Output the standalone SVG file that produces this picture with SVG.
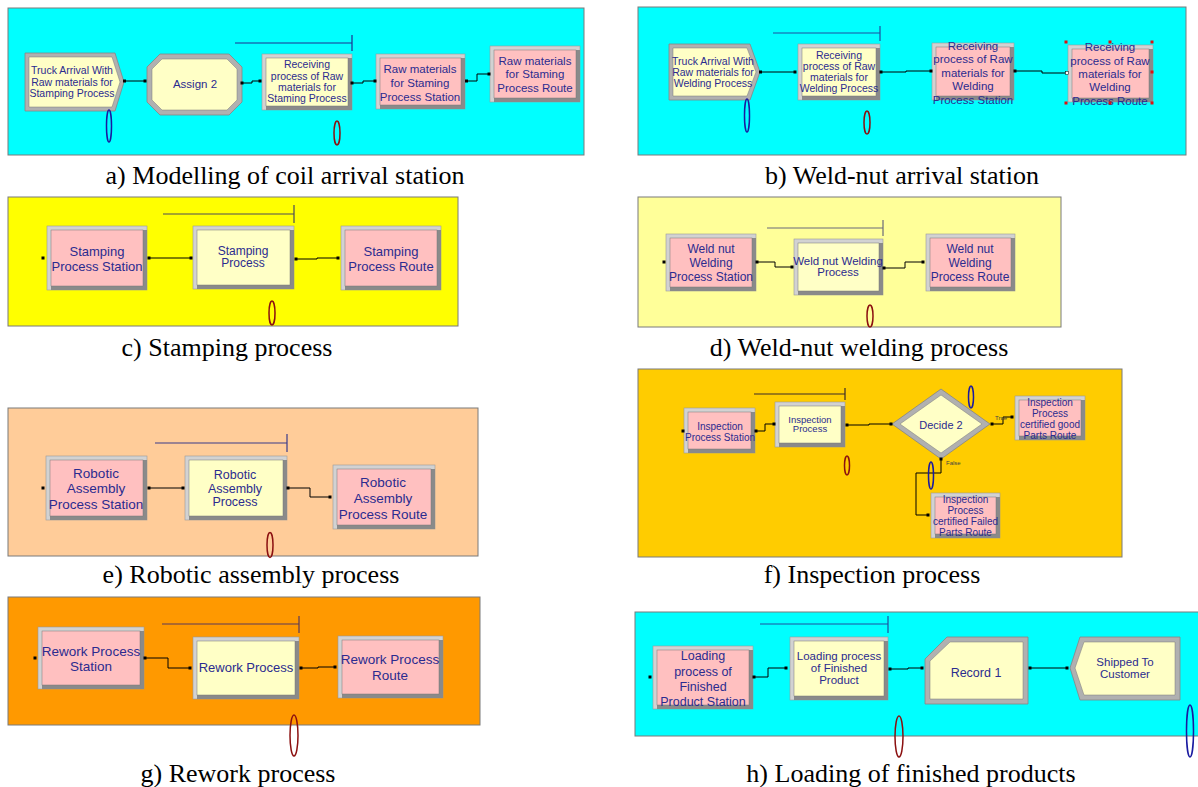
<svg xmlns="http://www.w3.org/2000/svg" width="1198" height="787" viewBox="0 0 1198 787">
<style>
.bl{fill:#d2d2d2;stroke:#9a9a9a;stroke-width:.6}
.bd{fill:#8a8a8a}
.fy{fill:#ffffc6;stroke:#7a7a7a;stroke-width:.5}
.fp{fill:#ffc0c0;stroke:#7a7a7a;stroke-width:.5}
.sh{fill:#b0b0b0;stroke:#858585;stroke-width:.8}
.t{font-family:"Liberation Sans",Arial,sans-serif;fill:#2b2b8f;text-anchor:middle}
.cap{font-family:"Liberation Serif","Times New Roman",serif;font-size:26px;fill:#000;text-anchor:middle}
.cn{fill:none;stroke:#000;stroke-width:1}
.dt{fill:#000}
.pn{stroke:#7a7a7a;stroke-width:1}
.eb{fill:none;stroke:#1a1aa0;stroke-width:1.5}
.er{fill:none;stroke:#8b1010;stroke-width:1.5}
.hd{fill:#e01010}
.lb{font-family:"Liberation Sans",Arial,sans-serif;font-size:6px;fill:#444}
</style>

<!-- panels -->
<g id="panels">
<rect class="pn" x="8" y="8" width="576" height="147" fill="#00ffff"/>
<rect class="pn" x="638" y="7" width="548" height="148" fill="#00ffff"/>
<rect class="pn" x="8" y="197" width="450" height="129" fill="#ffff00"/>
<rect class="pn" x="638" y="197" width="423" height="130" fill="#ffff99"/>
<rect class="pn" x="8" y="408" width="470" height="148" fill="#ffcc99"/>
<rect class="pn" x="638" y="369" width="484" height="188" fill="#ffcc00"/>
<rect class="pn" x="8" y="597" width="472" height="128" fill="#ff9900"/>
<rect class="pn" x="635" y="612" width="600" height="124" fill="#00ffff"/>
</g>

<!-- panel a -->
<g id="a_create">
<polygon class="sh" points="25,53 115,53 124,82 115,111 25,111"/>
<polygon class="fy" points="29,57 112,57 120,82 112,107 29,107"/>
<text class="t" font-size="10.5" x="72" y="74">Truck Arrival With</text>
<text class="t" font-size="10.5" x="72" y="86">Raw materials for</text>
<text class="t" font-size="10.5" x="72" y="97">Stamping Process</text>
</g>
<g id="a_assign">
<polygon class="sh" points="160,54 229,54 242,67 242,102 229,115 160,115 147,102 147,67"/>
<polygon class="fy" points="162,59 227,59 237,69 237,100 227,110 162,110 152,100 152,69"/>
<text class="t" font-size="11.5" x="195" y="88">Assign 2</text>
</g>
<g id="a_receiving">
<rect class="bl" x="262" y="54" width="90" height="56"/>
<rect class="bd" x="266" y="58" width="86" height="52"/>
<rect class="fy" x="266" y="58" width="82" height="48"/>
<text class="t" font-size="10.5" x="307" y="68">Receiving</text>
<text class="t" font-size="10.5" x="307" y="80">process of Raw</text>
<text class="t" font-size="10.5" x="307" y="91">materials for</text>
<text class="t" font-size="10.5" x="307" y="102">Staming Process</text>
</g>
<g id="a_station">
<rect class="bl" x="376" y="54" width="89" height="55"/>
<rect class="bd" x="380" y="58" width="85" height="51"/>
<rect class="fp" x="380" y="58" width="81" height="47"/>
<text class="t" font-size="11.5" x="420" y="73">Raw materials</text>
<text class="t" font-size="11.5" x="420" y="87">for Staming</text>
<text class="t" font-size="11.5" x="420" y="101">Process Station</text>
</g>
<g id="a_route">
<rect class="bl" x="490" y="46" width="90" height="56"/>
<rect class="bd" x="494" y="50" width="86" height="52"/>
<rect class="fp" x="494" y="50" width="82" height="48"/>
<text class="t" font-size="11.5" x="535" y="65">Raw materials</text>
<text class="t" font-size="11.5" x="535" y="78">for Staming</text>
<text class="t" font-size="11.5" x="535" y="92">Process Route</text>
</g>

<!-- panel b -->
<g id="b_create">
<polygon class="sh" points="669,44 750,44 760,72 750,100 669,100"/>
<polygon class="fy" points="673,48 747,48 756,72 747,96 673,96"/>
<text class="t" font-size="10.5" x="713" y="65">Truck Arrival With</text>
<text class="t" font-size="10.5" x="713" y="76">Raw materials for</text>
<text class="t" font-size="10.5" x="713" y="87">Welding Process</text>
</g>
<g id="b_receiving">
<rect class="bl" x="798" y="44" width="82" height="56"/>
<rect class="bd" x="802" y="48" width="78" height="52"/>
<rect class="fy" x="802" y="48" width="74" height="48"/>
<text class="t" font-size="10.5" x="839" y="59">Receiving</text>
<text class="t" font-size="10.5" x="839" y="70">process of Raw</text>
<text class="t" font-size="10.5" x="839" y="81">materials for</text>
<text class="t" font-size="10.5" x="839" y="92">Welding Process</text>
</g>
<g id="b_station">
<rect class="bl" x="932" y="43" width="82" height="57"/>
<rect class="bd" x="936" y="47" width="78" height="53"/>
<rect class="fp" x="936" y="47" width="74" height="49"/>
<text class="t" font-size="11.5" x="973" y="49.5">Receiving</text>
<text class="t" font-size="11.5" x="973" y="63">process of Raw</text>
<text class="t" font-size="11.5" x="973" y="76.5">materials for</text>
<text class="t" font-size="11.5" x="973" y="90">Welding</text>
<text class="t" font-size="11.5" x="973" y="103.5">Process Station</text>
</g>
<g id="b_route">
<rect class="bl" x="1068" y="45" width="85" height="57"/>
<rect class="bd" x="1072" y="49" width="81" height="53"/>
<rect class="fp" x="1072" y="49" width="77" height="49"/>
<text class="t" font-size="11.5" x="1110" y="51">Receiving</text>
<text class="t" font-size="11.5" x="1110" y="65">process of Raw</text>
<text class="t" font-size="11.5" x="1110" y="78">materials for</text>
<text class="t" font-size="11.5" x="1110" y="91">Welding</text>
<text class="t" font-size="11.5" x="1110" y="105">Process Route</text>
<rect class="hd" x="1064.5" y="40.5" width="3" height="3"/>
<rect class="hd" x="1108.5" y="40.5" width="3" height="3"/>
<rect class="hd" x="1150.5" y="40.5" width="3" height="3"/>
<rect class="hd" x="1150.5" y="70.5" width="3" height="3"/>
<rect class="hd" x="1150.5" y="101.5" width="3" height="3"/>
<rect class="hd" x="1108.5" y="101.5" width="3" height="3"/>
<rect class="hd" x="1064.5" y="101.5" width="3" height="3"/>
</g>

<!-- panel c -->
<g id="c_station">
<rect class="bl" x="47" y="226" width="100" height="64"/>
<rect class="bd" x="51" y="230" width="96" height="60"/>
<rect class="fp" x="51" y="230" width="92" height="56"/>
<text class="t" font-size="13" x="97" y="256">Stamping</text>
<text class="t" font-size="13" x="97" y="271">Process Station</text>
</g>
<g id="c_process">
<rect class="bl" x="193" y="226" width="101" height="63"/>
<rect class="bd" x="197" y="230" width="97" height="59"/>
<rect class="fy" x="197" y="230" width="93" height="55"/>
<text class="t" font-size="12" x="243" y="255">Stamping</text>
<text class="t" font-size="12" x="243" y="267">Process</text>
</g>
<g id="c_route">
<rect class="bl" x="341" y="226" width="100" height="64"/>
<rect class="bd" x="345" y="230" width="96" height="60"/>
<rect class="fp" x="345" y="230" width="92" height="56"/>
<text class="t" font-size="13" x="391" y="256">Stamping</text>
<text class="t" font-size="13" x="391" y="271">Process Route</text>
</g>

<!-- panel d -->
<g id="d_station">
<rect class="bl" x="666" y="234" width="90" height="57"/>
<rect class="bd" x="670" y="238" width="86" height="53"/>
<rect class="fp" x="670" y="238" width="82" height="49"/>
<text class="t" font-size="12" x="711" y="253">Weld nut</text>
<text class="t" font-size="12" x="711" y="267">Welding</text>
<text class="t" font-size="12" x="711" y="281">Process Station</text>
</g>
<g id="d_process">
<rect class="bl" x="794" y="239" width="89" height="56"/>
<rect class="bd" x="798" y="243" width="85" height="52"/>
<rect class="fy" x="798" y="243" width="81" height="48"/>
<text class="t" font-size="11.5" x="838" y="265">Weld nut Welding</text>
<text class="t" font-size="11.5" x="838" y="276">Process</text>
</g>
<g id="d_route">
<rect class="bl" x="926" y="234" width="89" height="57"/>
<rect class="bd" x="930" y="238" width="85" height="53"/>
<rect class="fp" x="930" y="238" width="81" height="49"/>
<text class="t" font-size="12" x="970" y="253">Weld nut</text>
<text class="t" font-size="12" x="970" y="267">Welding</text>
<text class="t" font-size="12" x="970" y="281">Process Route</text>
</g>

<!-- panel e -->
<g id="e_station">
<rect class="bl" x="46" y="456" width="101" height="64"/>
<rect class="bd" x="50" y="460" width="97" height="60"/>
<rect class="fp" x="50" y="460" width="93" height="56"/>
<text class="t" font-size="13.5" x="96" y="478">Robotic</text>
<text class="t" font-size="13.5" x="96" y="493">Assembly</text>
<text class="t" font-size="13.5" x="96" y="509">Process Station</text>
</g>
<g id="e_process">
<rect class="bl" x="185" y="456" width="102" height="64"/>
<rect class="bd" x="189" y="460" width="98" height="60"/>
<rect class="fy" x="189" y="460" width="94" height="56"/>
<text class="t" font-size="12.5" x="235" y="479">Robotic</text>
<text class="t" font-size="12.5" x="235" y="493">Assembly</text>
<text class="t" font-size="12.5" x="235" y="506">Process</text>
</g>
<g id="e_route">
<rect class="bl" x="333" y="465" width="102" height="64"/>
<rect class="bd" x="337" y="469" width="98" height="60"/>
<rect class="fp" x="337" y="469" width="94" height="56"/>
<text class="t" font-size="13.5" x="383" y="487">Robotic</text>
<text class="t" font-size="13.5" x="383" y="503">Assembly</text>
<text class="t" font-size="13.5" x="383" y="519">Process Route</text>
</g>

<!-- panel f -->
<g id="f_station">
<rect class="bl" x="684" y="408" width="71" height="45"/>
<rect class="bd" x="688" y="412" width="67" height="41"/>
<rect class="fp" x="688" y="412" width="63" height="37"/>
<text class="t" font-size="10" x="720" y="429.5">Inspection</text>
<text class="t" font-size="10" x="720" y="440.5">Process Station</text>
</g>
<g id="f_process">
<rect class="bl" x="775" y="402" width="70" height="45"/>
<rect class="bd" x="779" y="406" width="66" height="41"/>
<rect class="fy" x="779" y="406" width="62" height="37"/>
<text class="t" font-size="9.5" x="810" y="423">Inspection</text>
<text class="t" font-size="9.5" x="810" y="432">Process</text>
</g>
<g id="f_decide">
<polygon class="sh" points="941,389 990,424 941,459 892,424"/>
<polygon class="fy" points="941,395 982,424 941,453 900,424"/>
<text class="t" font-size="11" x="941" y="428.5">Decide 2</text>
</g>
<g id="f_good">
<rect class="bl" x="1015" y="396" width="70" height="44"/>
<rect class="bd" x="1019" y="400" width="66" height="40"/>
<rect class="fp" x="1019" y="400" width="62" height="36"/>
<text class="t" font-size="10" x="1050" y="405.5">Inspection</text>
<text class="t" font-size="10" x="1050" y="416.5">Process</text>
<text class="t" font-size="10" x="1050" y="427.5">certified good</text>
<text class="t" font-size="10" x="1050" y="438.5">Parts Route</text>
</g>
<g id="f_failed">
<rect class="bl" x="931" y="493" width="69" height="45"/>
<rect class="bd" x="935" y="497" width="65" height="41"/>
<rect class="fp" x="935" y="497" width="61" height="37"/>
<text class="t" font-size="10" x="965.5" y="502.5">Inspection</text>
<text class="t" font-size="10" x="965.5" y="513.5">Process</text>
<text class="t" font-size="10" x="965.5" y="524.5">certified Failed</text>
<text class="t" font-size="10" x="965.5" y="535.5">Parts Route</text>
</g>

<!-- panel g -->
<g id="g_station">
<rect class="bl" x="38" y="627" width="106" height="62"/>
<rect class="bd" x="42" y="631" width="102" height="58"/>
<rect class="fp" x="42" y="631" width="98" height="54"/>
<text class="t" font-size="13.5" x="91" y="656">Rework Process</text>
<text class="t" font-size="13.5" x="91" y="671">Station</text>
</g>
<g id="g_process">
<rect class="bl" x="193" y="637" width="106" height="62"/>
<rect class="bd" x="197" y="641" width="102" height="58"/>
<rect class="fy" x="197" y="641" width="98" height="54"/>
<text class="t" font-size="13" x="246" y="672">Rework Process</text>
</g>
<g id="g_route">
<rect class="bl" x="338" y="636" width="105" height="62"/>
<rect class="bd" x="342" y="640" width="101" height="58"/>
<rect class="fp" x="342" y="640" width="97" height="54"/>
<text class="t" font-size="13.5" x="390" y="664">Rework Process</text>
<text class="t" font-size="13.5" x="390" y="680">Route</text>
</g>

<!-- panel h -->
<g id="h_station">
<rect class="bl" x="653" y="646" width="100" height="63"/>
<rect class="bd" x="657" y="650" width="96" height="59"/>
<rect class="fp" x="657" y="650" width="92" height="55"/>
<text class="t" font-size="12.5" x="703" y="660">Loading</text>
<text class="t" font-size="12.5" x="703" y="675.5">process of</text>
<text class="t" font-size="12.5" x="703" y="690.5">Finished</text>
<text class="t" font-size="12.5" x="703" y="705.5">Product Station</text>
</g>
<g id="h_process">
<rect class="bl" x="790" y="637" width="98" height="63"/>
<rect class="bd" x="794" y="641" width="94" height="59"/>
<rect class="fy" x="794" y="641" width="90" height="55"/>
<text class="t" font-size="11.5" x="839" y="660">Loading process</text>
<text class="t" font-size="11.5" x="839" y="672">of Finished</text>
<text class="t" font-size="11.5" x="839" y="684">Product</text>
</g>
<g id="h_record">
<polygon class="sh" points="947,637 1028,637 1028,704 925,704 925,659"/>
<polygon class="fy" points="950,642 1023,642 1023,699 930,699 930,661"/>
<text class="t" font-size="12.5" x="976" y="676.5">Record 1</text>
</g>
<g id="h_shipped">
<polygon class="sh" points="1080,637 1180,637 1180,700 1080,700 1070,668"/>
<polygon class="fy" points="1084,642 1175,642 1175,695 1084,695 1075,668"/>
<text class="t" font-size="11.5" x="1125" y="666">Shipped To</text>
<text class="t" font-size="11.5" x="1125" y="678">Customer</text>
</g>

<!-- connectors -->
<g id="connectors">
<path class="cn" d="M124,81 H145"/>
<path class="cn" d="M242,83 H252 V81 H260"/>
<path class="cn" d="M352,83 H363 V81 H375"/>
<path class="cn" d="M466,81 H477 V74 H489"/>
<path class="cn" d="M760,72 H795"/>
<path class="cn" d="M881,72 H906 V71 H931"/>
<path class="cn" d="M1015,71 H1042 V73 H1067"/>
<path class="cn" d="M149,258 H191"/>
<path class="cn" d="M296,259 H317 V258 H338"/>
<path class="cn" d="M757,262 H775 V267 H792"/>
<path class="cn" d="M884,268 H905 V262 H923"/>
<path class="cn" d="M149,488 H183"/>
<path class="cn" d="M288,488 H310 V497 H330"/>
<path class="cn" d="M756,431 H765 V424 H774"/>
<path class="cn" d="M847,425 H869 V424 H891"/>
<path class="cn" d="M992,424 H1003 V417 H1012"/>
<path class="cn" d="M941,459 V473 H916 V515 H928"/>
<path class="cn" d="M145,658 H168 V668 H190"/>
<path class="cn" d="M301,668 H318 V667 H335"/>
<path class="cn" d="M754,677 H768 V668 H786"/>
<path class="cn" d="M890,669 H908 V668 H922"/>
<path class="cn" d="M1030,668 H1067"/>
<text class="lb" x="995" y="420">True</text>
<text class="lb" x="946" y="465">False</text>
<g class="dt">
<rect x="123" y="79.5" width="3" height="3"/><rect x="143.5" y="79.5" width="3" height="3"/>
<rect x="240.5" y="81.5" width="3" height="3"/><rect x="258.5" y="79.5" width="3" height="3"/>
<rect x="350.5" y="81.5" width="3" height="3"/><rect x="373.5" y="79.5" width="3" height="3"/>
<rect x="465" y="79.5" width="3" height="3"/><rect x="487.5" y="72.5" width="3" height="3"/>
<rect x="759" y="70.5" width="3" height="3"/><rect x="793.5" y="70.5" width="3" height="3"/>
<rect x="879.5" y="70.5" width="3" height="3"/><rect x="929.5" y="69.5" width="3" height="3"/>
<rect x="1013.5" y="69.5" width="3" height="3"/>
<rect x="1065.5" y="71.5" width="3" height="3" fill="#fff" stroke="#000" stroke-width=".5"/>
<rect x="41.5" y="256.5" width="3" height="3"/>
<rect x="147.5" y="256.5" width="3" height="3"/><rect x="189.5" y="256.5" width="3" height="3"/>
<rect x="294.5" y="257.5" width="3" height="3"/><rect x="336.5" y="256.5" width="3" height="3"/>
<rect x="662.5" y="260.5" width="3" height="3"/>
<rect x="755.5" y="260.5" width="3" height="3"/><rect x="790.5" y="265.5" width="3" height="3"/>
<rect x="882.5" y="266.5" width="3" height="3"/><rect x="921.5" y="260.5" width="3" height="3"/>
<rect x="41.5" y="486.5" width="3" height="3"/>
<rect x="147.5" y="486.5" width="3" height="3"/><rect x="181.5" y="486.5" width="3" height="3"/>
<rect x="286.5" y="486.5" width="3" height="3"/><rect x="328.5" y="495.5" width="3" height="3"/>
<rect x="681.5" y="429.5" width="3" height="3"/>
<rect x="754.5" y="429.5" width="3" height="3"/><rect x="772.5" y="422.5" width="3" height="3"/>
<rect x="845.5" y="423.5" width="3" height="3"/><rect x="889.5" y="422.5" width="3" height="3"/>
<rect x="990.5" y="422.5" width="3" height="3"/><rect x="1010.5" y="415.5" width="3" height="3"/>
<rect x="939.5" y="457.5" width="3" height="3"/><rect x="926.5" y="513.5" width="3" height="3"/>
<rect x="33.5" y="656.5" width="3" height="3"/>
<rect x="143.5" y="656.5" width="3" height="3"/><rect x="188.5" y="666.5" width="3" height="3"/>
<rect x="299.5" y="666.5" width="3" height="3"/><rect x="333.5" y="665.5" width="3" height="3"/>
<rect x="648.5" y="675.5" width="3" height="3"/>
<rect x="752.5" y="675.5" width="3" height="3"/><rect x="784.5" y="666.5" width="3" height="3"/>
<rect x="888.5" y="667.5" width="3" height="3"/><rect x="920.5" y="666.5" width="3" height="3"/>
<rect x="1028.5" y="666.5" width="3" height="3"/><rect x="1065.5" y="666.5" width="3" height="3"/>
</g>
</g>

<!-- resource bars -->
<g id="resources" fill="none" stroke-width="1.2">
<path d="M235,43 H352 M352,35 V51" stroke="#1f2f8f"/>
<path d="M773,33 H880 M880,26 V41" stroke="#1f4f9f"/>
<path d="M163,214 H294 M294,205 V223" stroke="#4a4a5a"/>
<path d="M767,228 H883 M883,220 V236" stroke="#6a6a7a"/>
<path d="M155,443 H287 M287,434 V452" stroke="#3a3a8a"/>
<path d="M754,394 H845 M845,388 V400" stroke="#3a2a2a"/>
<path d="M162,624 H299 M299,616 V633" stroke="#5a3a5a"/>
<path d="M760,624 H888 M888,616 V633" stroke="#1f4f9f"/>
</g>

<!-- animation markers -->
<g id="markers">
<ellipse class="eb" cx="109" cy="126" rx="2.5" ry="16"/>
<ellipse class="er" cx="337" cy="133" rx="3" ry="12"/>
<ellipse class="eb" cx="747" cy="115.5" rx="2.5" ry="16.5"/>
<ellipse class="er" cx="867" cy="122.5" rx="3" ry="11.5"/>
<ellipse class="er" cx="272" cy="313" rx="3" ry="12"/>
<ellipse class="er" cx="870" cy="316" rx="3" ry="11"/>
<ellipse class="er" cx="270" cy="545" rx="3" ry="12.5"/>
<ellipse class="eb" cx="971" cy="397" rx="2.5" ry="11"/>
<ellipse class="er" cx="847" cy="465.5" rx="2.5" ry="9.5"/>
<ellipse class="eb" cx="931" cy="475.5" rx="2.5" ry="13.5"/>
<ellipse class="er" cx="294" cy="735.5" rx="4" ry="20.5"/>
<ellipse class="er" cx="899" cy="736.5" rx="4" ry="20.5"/>
<ellipse class="eb" cx="1190" cy="731" rx="3.5" ry="26"/>
</g>

<!-- captions -->
<g id="captions">
<text class="cap" x="285" y="184">a) Modelling of coil arrival station</text>
<text class="cap" x="902" y="184">b) Weld-nut arrival station</text>
<text class="cap" x="227" y="356">c) Stamping process</text>
<text class="cap" x="859" y="356">d) Weld-nut welding process</text>
<text class="cap" x="251" y="583">e) Robotic assembly process</text>
<text class="cap" x="872" y="583">f) Inspection process</text>
<text class="cap" x="238" y="782">g) Rework process</text>
<text class="cap" x="911" y="782">h) Loading of finished products</text>
</g>
</svg>
